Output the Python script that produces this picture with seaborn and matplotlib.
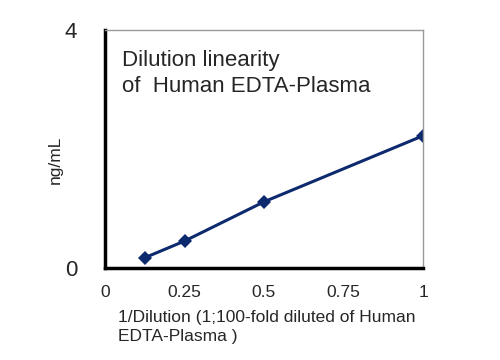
import numpy as np
import pandas as pd
import matplotlib
matplotlib.use("Agg")
import matplotlib.pyplot as plt
import seaborn as sns

# values
dilution = [0.125, 0.25, 0.5, 1.0]
conc = [0.17, 0.45, 1.11, 2.22]
xticks = [0, 0.25, 0.5, 0.75, 1]
xticklabels = ["0", "0.25", "0.5", "0.75", "1"]

sns.set_style("white")
plt.rcParams['font.family'] = ['Liberation Sans', 'DejaVu Sans']

df = pd.DataFrame({"x": dilution, "y": conc})

fig = plt.figure(figsize=(5, 3.6), dpi=100)
ax = fig.add_axes([0.21, 0.256, 0.636, 0.661])

sns.lineplot(data=df, x="x", y="y", ax=ax, color="#0d2a6e", linewidth=2.2,
             marker="D", markersize=7, markeredgewidth=0)

ax.set_xlim(0, 1)
ax.set_ylim(0, 4)
ax.set_xticks(xticks)
ax.set_xticklabels(xticklabels, fontsize=12.5)
ax.set_yticks([0, 4])
ax.set_yticklabels(["0", "4"], fontsize=16)
ax.tick_params(axis="y", length=0, pad=20)
ax.tick_params(axis="x", length=0, pad=12)

# spines: thick black left/bottom, thin grey top/right
for side in ["left", "bottom"]:
    ax.spines[side].set_color("black")
    ax.spines[side].set_linewidth(2.5)
for side in ["top", "right"]:
    ax.spines[side].set_color("#999999")
    ax.spines[side].set_linewidth(1.0)

ax.set_xlabel("")
ax.set_ylabel("")
fig.text(0.11, 0.555, "ng/mL", rotation=90, fontsize=12.5, ha="center", va="center")
fig.text(0.236, 0.092, "1/Dilution (1;100-fold diluted of Human\nEDTA-Plasma )",
         fontsize=12.5, ha="left", va="center", linespacing=1.3)

ax.text(0.055, 0.915, "Dilution linearity\nof  Human EDTA-Plasma", transform=ax.transAxes,
        fontsize=16, ha="left", va="top", linespacing=1.3)

fig.savefig("out.png", dpi=100)
